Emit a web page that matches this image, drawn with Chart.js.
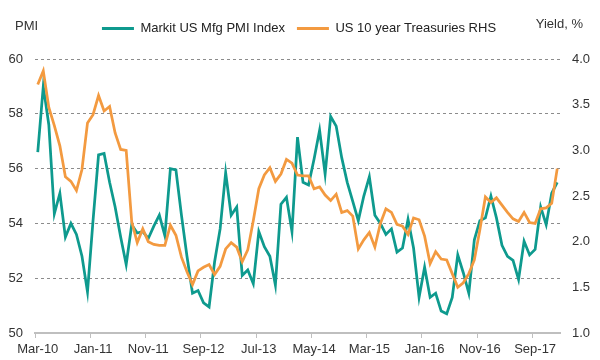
<!DOCTYPE html>
<html>
<head>
<meta charset="utf-8">
<script src="https://cdn.jsdelivr.net/npm/chart.js@4.4.1/dist/chart.umd.min.js"></script>
<style>
  body { margin: 0; background: #fff; }
  #wrap { width: 600px; height: 360px; }
</style>
</head>
<body>
<div id="wrap"><canvas id="myChart"></canvas></div>
<script>
// monthly, Mar-10 .. Jan-18
var pmi = [56.6, 59.0, 57.6, 54.35, 55.1, 53.5, 54.0, 53.6, 52.8, 51.5,
  54.1, 56.5, 56.55, 55.5, 54.6, 53.5, 52.5, 53.95, 53.65, 53.7,
  53.45, 53.9, 54.3, 53.55, 56.0, 55.95, 54.3, 52.8, 51.45, 51.55,
  51.1, 50.95, 52.6, 53.8, 55.85, 54.3, 54.6, 52.1, 52.3, 51.8,
  53.7, 53.15, 52.8, 51.75, 54.7, 54.95, 53.7, 57.15, 55.5, 55.4,
  56.35, 57.4, 55.8, 57.9, 57.55, 56.4, 55.5, 54.8, 54.1, 55.0,
  55.7, 54.3, 54.0, 53.6, 53.8, 52.95, 53.1, 54.15, 53.1, 51.3,
  52.4, 51.3, 51.45, 50.8, 50.7, 51.3, 52.85, 52.2, 51.45, 53.4,
  54.1, 54.2, 55.0, 54.2, 53.2, 52.8, 52.65, 51.95, 53.35, 52.85,
  53.05, 54.6, 53.95, 55.1, 55.5];

var treasuries = [3.72, 3.87, 3.47, 3.27, 3.05, 2.71, 2.66, 2.56, 2.79, 3.30,
  3.39, 3.60, 3.43, 3.48, 3.19, 3.01, 3.0, 2.22, 1.99, 2.14,
  2.0, 1.97, 1.96, 1.96, 2.18, 2.07, 1.83, 1.67, 1.53, 1.68,
  1.72, 1.75, 1.64, 1.73, 1.92, 1.99, 1.94, 1.78, 1.91, 2.23,
  2.58, 2.73, 2.81, 2.66, 2.74, 2.90, 2.86, 2.73, 2.72, 2.72,
  2.58, 2.60, 2.51, 2.45, 2.52, 2.32, 2.34, 2.28, 1.92, 2.02,
  2.10, 1.94, 2.20, 2.36, 2.32, 2.19, 2.17, 2.08, 2.26, 2.24,
  2.06, 1.76, 1.89, 1.81, 1.80, 1.65, 1.50, 1.55, 1.65, 1.80,
  2.13, 2.49, 2.43, 2.48, 2.40, 2.32, 2.25, 2.22, 2.32, 2.21,
  2.20, 2.36, 2.37, 2.42, 2.80];

var tickLabels = ['Mar-10', 'Jan-11', 'Nov-11', 'Sep-12', 'Jul-13', 'May-14', 'Mar-15', 'Jan-16', 'Nov-16', 'Sep-17'];

var monthNames = ['Jan', 'Feb', 'Mar', 'Apr', 'May', 'Jun', 'Jul', 'Aug', 'Sep', 'Oct', 'Nov', 'Dec'];
var months = [];
for (var i = 0; i < pmi.length; i++) {
  var m = 2 + i;
  months.push(monthNames[m % 12] + '-' + (10 + Math.floor(m / 12)));
}

var green = '#0e9a8e';
var orange = '#f39a40';

Chart.defaults.font.family = '"Liberation Sans", Arial, sans-serif';
Chart.defaults.font.size = 13;
Chart.defaults.color = '#333';

// side captions above the two y axes
var axisCaptions = {
  id: 'axisCaptions',
  afterDraw: function(chart) {
    var c = chart.ctx;
    c.save();
    c.font = '13px "Liberation Sans", Arial, sans-serif';
    c.fillStyle = '#333';
    c.textBaseline = 'middle';
    c.textAlign = 'left';
    c.fillText('PMI', 15, 26);
    c.textAlign = 'right';
    c.fillText('Yield, %', 583, 24);
    c.restore();
  }
};

// extra space under the legend
var legendGap = {
  id: 'legendGap',
  beforeInit: function(chart) {
    var fit = chart.legend.fit;
    chart.legend.fit = function() {
      fit.bind(chart.legend)();
      this.height += 14;
    };
  }
};

var ctx = document.getElementById('myChart').getContext('2d');
var myChart = new Chart(ctx, {
  type: 'line',
  data: {
    labels: months,
    datasets: [{
      label: 'Markit US Mfg PMI Index',
      data: pmi,
      borderColor: green,
      backgroundColor: green,
      borderWidth: 2.75,
      pointRadius: 0,
      yAxisID: 'y',
      order: 1
    }, {
      label: 'US 10 year Treasuries RHS',
      data: treasuries,
      borderColor: orange,
      backgroundColor: orange,
      borderWidth: 2.75,
      pointRadius: 0,
      yAxisID: 'y1',
      order: 0
    }]
  },
  options: {
    responsive: true,
    maintainAspectRatio: false,
    animation: false,
    layout: { padding: { top: 10, left: 8, right: 10, bottom: 2 } },
    plugins: {
      tooltip: { enabled: false },
      legend: {
        position: 'top',
        labels: {
          boxWidth: 32,
          boxHeight: 3,
          padding: 12,
          color: '#222',
          sort: function(a, b) { return a.datasetIndex - b.datasetIndex; },
          generateLabels: function(chart) {
            var items = Chart.defaults.plugins.legend.labels.generateLabels(chart);
            items.forEach(function(it) { it.lineWidth = 0; });
            return items;
          }
        }
      }
    },
    scales: {
      x: {
        type: 'category',
        offset: true,
        afterFit: function(scale) { scale.height = 25; },
        grid: {
          offset: true,
          drawOnChartArea: false,
          drawTicks: true,
          tickLength: 5,
          color: function(c) { return c.index % 10 === 0 ? '#bfbfbf' : 'rgba(0,0,0,0)'; }
        },
        border: { display: true, color: '#bfbfbf', width: 2 },
        ticks: {
          autoSkip: false,
          maxRotation: 0,
          minRotation: 0,
          padding: 4,
          color: '#333',
          callback: function(value, index) {
            var lab = this.getLabelForValue(value);
            return tickLabels.indexOf(lab) >= 0 ? lab : '';
          }
        }
      },
      y: {
        position: 'left',
        min: 50,
        max: 60,
        afterFit: function(scale) { scale.width = 27; },
        ticks: { stepSize: 2, padding: 12, color: '#333' },
        grid: {
          drawTicks: false,
          color: function(c) { return c.tick.value === 50 ? 'rgba(0,0,0,0)' : '#8c8c8c'; },
          lineWidth: 1
        },
        border: { display: false, dash: [3, 3] }
      },
      y1: {
        position: 'right',
        min: 1,
        max: 4,
        afterFit: function(scale) { scale.width = 30; },
        ticks: {
          stepSize: 0.5,
          padding: 12,
          color: '#333',
          callback: function(v) { return v.toFixed(1); }
        },
        grid: { drawOnChartArea: false, drawTicks: false },
        border: { display: false }
      }
    }
  },
  plugins: [axisCaptions, legendGap]
});
</script>
</body>
</html>
